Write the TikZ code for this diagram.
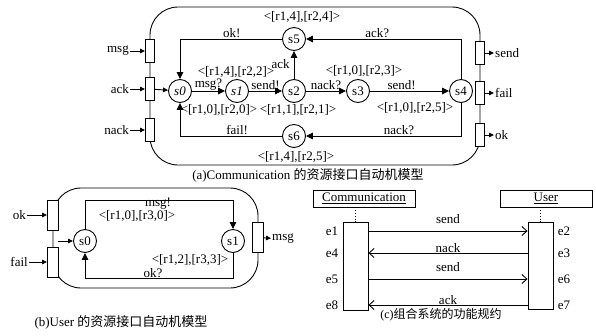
\documentclass[tikz,border=0pt]{standalone}
\usepackage{fontspec}
\setmainfont{Liberation Serif}
\newfontfamily\cjk{Noto Sans CJK SC}
\usetikzlibrary{arrows.meta}
\begin{document}
\begin{tikzpicture}[x=1pt,y=-1pt,
  every node/.style={font=\fontsize{13}{15}\selectfont, inner sep=1pt},
  ln/.style={line width=0.9pt},
  st/.style={draw, circle, line width=0.9pt, minimum size=23pt, inner sep=0pt, fill=white},
  port/.style={draw, line width=0.9pt, fill=white, minimum width=9pt, minimum height=23pt, inner sep=0pt},
  bport/.style={port, minimum width=11pt, minimum height=30pt},
  arr/.style={line width=0.9pt, -{Triangle[length=7pt,width=6.5pt]}},
  parr/.style={line width=0.9pt, -{Triangle[length=5pt,width=4.5pt]}},
  oarr/.style={line width=0.9pt, -{Straight Barb[length=5pt,width=9pt]}},
  box/.style={draw, line width=0.9pt, inner sep=0pt},
]
\useasboundingbox (0,0) rectangle (596,335);

% ---------------- (a) ----------------
\draw[ln, rounded corners=28pt] (150,7) rectangle (480,165);
\node[port] (pmsg) at (150,51) {};
\node[port] (pack) at (150,89) {};
\node[port] (pnack) at (150,130) {};
\node[port] (psend) at (480,53) {};
\node[port] (pfail) at (480,93) {};
\node[port] (pok) at (480,135) {};
\node[anchor=east] (lmsg) at (130,51) {msg};
\node[anchor=east] (lack) at (130,89) {ack};
\node[anchor=east] (lnack) at (130,130) {nack};
\node[anchor=west] (lsend) at (494,53) {send};
\node[anchor=west] (lfail) at (494,93) {fail};
\node[anchor=west] (lok) at (494,135) {ok};
\draw[parr] (lmsg) -- (pmsg);
\draw[parr] (lack) -- (pack);
\draw[parr] (lnack) -- (pnack);
\draw[parr] (psend) -- (lsend);
\draw[parr] (pfail) -- (lfail);
\draw[parr] (pok) -- (lok);

\node[st] (s0) at (180,91) {\itshape s0};
\node[st] (s1) at (237,91) {\itshape s1};
\node[st] (s2) at (294,91) {s2};
\node[st] (s3) at (358,91) {s3};
\node[st] (s4) at (461,91) {s4};
\node[st] (s5) at (294,39) {s5};
\node[st] (s6) at (294,136) {s6};

\draw[parr] (pack) -- (s0);
\draw[arr] (s0) -- (s1) node[midway, above, inner sep=0.5pt] {msg?};
\draw[arr] (s1) -- (s2) node[midway, above, inner sep=0.5pt] {send!};
\draw[arr] (s2) -- (s3) node[midway, above, inner sep=0.5pt] {nack?};
\draw[arr] (s3) -- (s4) node[pos=0.4, above, inner sep=0.5pt] {send!};
\draw[arr] (s2) -- (s5) node[pos=0.55, left=3pt] {ack};
\draw[arr] (s5) -| (s0) node[pos=0.246, above] {ok!};
\draw[arr] (s4) |- (s5) node[pos=0.77, above] {ack?};
\draw[arr] (s6) -| (s0) node[pos=0.22, above] {fail!};
\draw[arr] (s4) |- (s6) node[pos=0.70, above] {nack?};

\node (r5) at (302,17) {<[r1,4],[r2,4]>};
\node (r1) at (236,71.5) {<[r1,4],[r2,2]>};
\node (r3) at (364,71) {<[r1,0],[r2,3]>};
\node (r0) at (219,110) {<[r1,0],[r2,0]>};
\node (r2) at (298,110) {<[r1,1],[r2,1]>};
\node (r4) at (415,108) {<[r1,0],[r2,5]>};
\node (r6) at (296,157) {<[r1,4],[r2,5]>};

\node (capa) at (308,175) {(a)Communication {\cjk 的资源接口自动机模型}};

% ---------------- (b) ----------------
\draw[ln, rounded corners=28pt] (53,188) rectangle (258,288);
\node[bport] (bpok) at (53,215) {};
\node[bport] (bpfail) at (53,262) {};
\node[bport] (bpmsg) at (258,237.5) {};
\node[anchor=east] (blok) at (27,215) {ok};
\node[anchor=east] (blfail) at (29,262) {fail};
\node[anchor=west] (blmsg) at (271,239) {msg};
\draw[parr] (blok) -- (bpok);
\draw[parr] (blfail) -- (bpfail);
\draw[parr] (bpmsg) -- (blmsg);

\node[st] (b0) at (85,241) {s0};
\node[st] (b1) at (233,241) {s1};
\coordinate (bin) at (58,241);
\coordinate (btop) at (0,200);
\coordinate (bbot) at (0,278);
\draw[parr] (bin) -- (b0);
\draw[arr] (b0) -- (b0 |- btop) -| (b1);
\draw[arr] (b1) -- (b1 |- bbot) -| (b0);
\node (bmsg) at (158,203.5) {msg!};
\node (bra) at (137,216) {<[r1,0],[r3,0]>};
\node (bok) at (153,273) {ok?};
\node (brb) at (190,260) {<[r1,2],[r3,3]>};

\node (capb) at (121,322) {(b)User {\cjk 的资源接口自动机模型}};

% ---------------- (c) ----------------
\node[box, minimum width=102pt, minimum height=17pt] (comm) at (364,198.5) {\underline{Communication}};
\node[box, minimum width=92pt, minimum height=17pt] (user) at (546,198.5) {\underline{User}};
\node[box, minimum width=25pt, minimum height=88pt] (lact) at (355.5,266) {};
\node[box, minimum width=25pt, minimum height=87pt] (ract) at (540.5,265.5) {};
\draw[dotted, line width=0.8pt] (comm.south -| lact.north) -- (lact.north);
\draw[dotted, line width=0.8pt] (user.south -| ract.north) -- (ract.north);

\node (e1) at (332,231) {e1};
\node (e4) at (332,253) {e4};
\node (e5) at (332,279) {e5};
\node (e8) at (332,305) {e8};
\node (e2) at (564,231) {e2};
\node (e3) at (564,253) {e3};
\node (e6) at (564,279) {e6};
\node (e7) at (564,305) {e7};

\draw[oarr] (lact.east |- e1) -- (ract.west |- e2) node[midway, above=6pt] {send};
\draw[oarr] (ract.west |- e3) -- (lact.east |- e4) node[midway, anchor=base, yshift=1pt] {nack};
\draw[oarr] (lact.east |- e5) -- (ract.west |- e6) node[midway, above=6pt] {send};
\draw[oarr] (ract.west |- e7) -- (lact.east |- e8) node[midway, anchor=base, yshift=1pt] {ack};

\node[font=\fontsize{12}{14}\selectfont] (capc) at (441,315) {(c){\cjk 组合系统的功能规约}};
\end{tikzpicture}
\end{document}
